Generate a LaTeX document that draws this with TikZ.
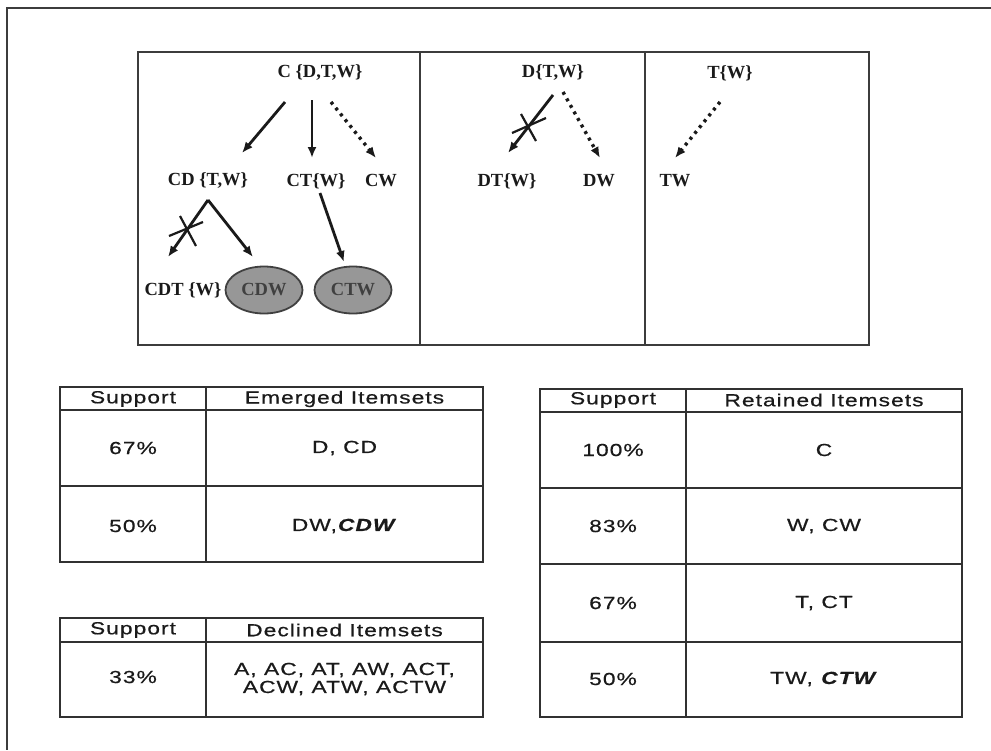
\documentclass[tikz,border=0pt]{standalone}
\usepackage{fontspec}
\setmainfont{Liberation Serif}
\newfontfamily\tabfont[FakeStretch=1.3,LetterSpace=6,FakeBold=0.6]{Liberation Sans}
\usetikzlibrary{arrows.meta,calc,shapes.geometric}
\definecolor{ink}{HTML}{1A1A1A}
\definecolor{ovfill}{HTML}{979797}
\definecolor{ovline}{HTML}{404040}
\begin{document}
\begin{tikzpicture}[x=1pt,y=-1pt,
  tree/.style={inner sep=0pt,text=ink,font=\fontsize{18.5}{20}\selectfont\bfseries},
  oval/.style={ellipse,draw=ovline,line width=1.8pt,fill=ovfill,inner sep=0pt,
     minimum width=77pt,minimum height=47pt,text=black!75,font=\fontsize{18.5}{20}\selectfont\bfseries},
  arr/.style={draw=ink,line width=2.8pt,-{Latex[length=11pt,width=9pt]}},
  darr/.style={draw=ink,line width=3.4pt,dash pattern=on 3pt off 4.5pt,-{Latex[length=11pt,width=9pt]}},
  crossln/.style={draw=ink,line width=2.2pt},
  frame/.style={draw=ink!85,line width=2.2pt},
  grid/.style={draw=ink!90,line width=2pt},
  cell/.style={inner sep=0pt,text=ink,align=center,font=\tabfont\fontsize{17.5}{19}\selectfont}
]
\useasboundingbox (0,0) rectangle (991,750);
\fill[white] (0,0) rectangle (991,750);
% outer border (only top and left visible)
\draw[frame,line width=2.4pt] (991,8) -- (7,8) -- (7,750);

% top panel
\draw[frame] (138,52) rectangle (869,345);
\draw[frame] (420,52) -- (420,345);
\draw[frame] (645,52) -- (645,345);

% tree panel 1
\node[tree] (C) at (320,73) {C {\{}D,T,W{\}}};
\node[tree] (CD) at (208,181) {CD {\{}T,W{\}}};
\node[tree] (CT) at (316,181) {CT{\{}W{\}}};
\node[tree] (CW) at (381,181) {CW};
\node[tree] (CDT) at (183,290) {CDT {\{}W{\}}};
\node[oval] (CDW) at (264,290) {CDW};
\node[oval] (CTW) at (353,290) {CTW};

\draw[arr] ($(C)+(-35,29)$) -- ($(CD)+(34,-28)$);
\draw[arr] ($(C)+(-8,27)$) -- ($(CT)+(-4,-23)$);
\draw[darr] ($(C)+(11,29)$) -- ($(CW)+(-5,-23)$);
\draw[arr] ($(CD)+(0,19)$) -- ($(CDT)+(-15,-33)$);
\draw[arr] ($(CD)+(0,19)$) -- ($(CDW)+(-11,-33)$);
\draw[arr] ($(CT)+(4,12)$) -- ($(CTW)+(-9,-28)$);
\draw[crossln] (169,236) -- (203,222);
\draw[crossln] (180,216) -- (196,246);

% tree panel 2
\node[tree] (D) at (553,73) {D{\{}T,W{\}}};
\node[tree] (DT) at (507,181) {DT{\{}W{\}}};
\node[tree] (DW) at (599,181) {DW};
\draw[arr] ($(D)+(0,22)$) -- ($(DT)+(1,-28)$);
\draw[darr] ($(D)+(10,19)$) -- ($(DW)+(1,-23)$);
\draw[crossln] (512,133) -- (546,118);
\draw[crossln] (521,114) -- (536,141);

% tree panel 3
\node[tree] (T) at (730,73) {T{\{}W{\}}};
\node[tree] (TW) at (675,181) {TW};
\draw[darr] ($(T)+(-10,29)$) -- ($(TW)+(0,-23)$);

% Emerged table
\draw[grid] (60,387) rectangle (483,562);
\draw[grid] (206,387) -- (206,562);
\draw[grid] (60,410) -- (483,410);
\draw[grid] (60,486) -- (483,486);
\node[cell] (eh1) at (133,399) {Support};
\node[cell] (eh2) at (344.5,399) {Emerged Itemsets};
\node[cell] (e11) at (133,448) {67\%};
\node[cell] (e12) at (344.5,448) {D, CD};
\node[cell] (e21) at (133,526) {50\%};
\node[cell] (e22) at (344.5,526) {DW,\textbf{\textit{CDW}}};

% Declined table
\draw[grid] (60,618) rectangle (483,717);
\draw[grid] (206,618) -- (206,717);
\draw[grid] (60,642) -- (483,642);
\node[cell] (dh1) at (133,630) {Support};
\node[cell] (dh2) at (344.5,630) {Declined Itemsets};
\node[cell] (d11) at (133,677) {33\%};
\node[cell,font=\tabfont\fontsize{17.5}{18}\selectfont] (d12) at (344.5,679) {A, AC, AT, AW, ACT,\\ACW, ATW, ACTW};

% Retained table
\draw[grid] (540,389) rectangle (962,717);
\draw[grid] (686,389) -- (686,717);
\draw[grid] (540,412) -- (962,412);
\draw[grid] (540,488) -- (962,488);
\draw[grid] (540,564) -- (962,564);
\draw[grid] (540,642) -- (962,642);
\node[cell] (rh1) at (613,400) {Support};
\node[cell] (rh2) at (824,400) {Retained Itemsets};
\node[cell] (r11) at (613,450) {100\%};
\node[cell] (r12) at (824,450) {C};
\node[cell] (r21) at (613,526) {83\%};
\node[cell] (r22) at (824,526) {W, CW};
\node[cell] (r31) at (613,603) {67\%};
\node[cell] (r32) at (824,603) {T, CT};
\node[cell] (r41) at (613,679) {50\%};
\node[cell] (r42) at (824,679) {TW, \textbf{\textit{CTW}}};
\end{tikzpicture}
\end{document}
